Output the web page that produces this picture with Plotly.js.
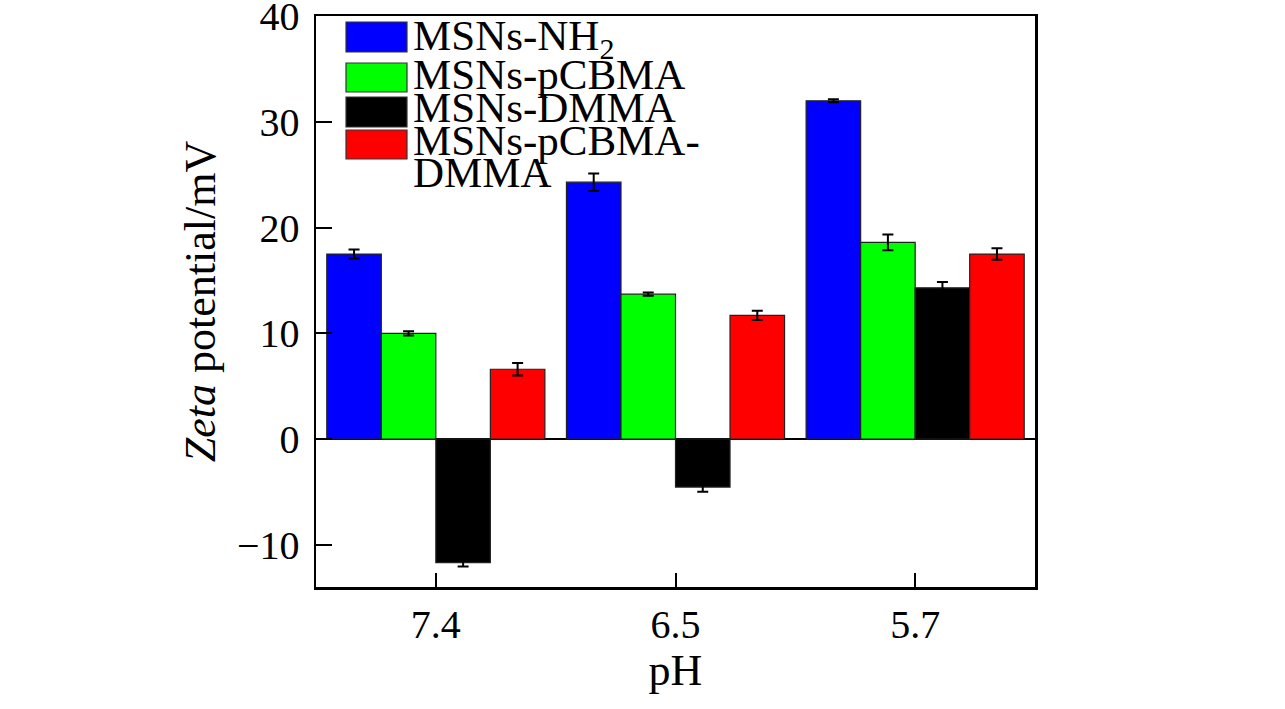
<!DOCTYPE html>
<html>
<head>
<meta charset="utf-8">
<script src="https://cdn.plot.ly/plotly-3.0.1.min.js"></script>
<style>
html,body{margin:0;padding:0;background:#fff;}
#chart{width:1285px;height:709px;}
</style>
</head>
<body>
<div id="chart"></div>
<script>
// ---- data ----
const categories = ['7.4', '6.5', '5.7'];
const seriesNames = ['MSNs-NH<sub>2</sub>', 'MSNs-pCBMA', 'MSNs-DMMA', 'MSNs-pCBMA-DMMA'];
const nh2Values = [17.5, 24.3, 32.0];
const nh2Errors = [0.43, 0.83, 0.15];
const pcbmaValues = [10.0, 13.7, 18.6];
const pcbmaErrors = [0.2, 0.15, 0.75];
const dmmaValues = [-11.7, -4.55, 14.3];
const dmmaErrors = [0.35, 0.45, 0.55];
const pcbmaDmmaValues = [6.6, 11.7, 17.5];
const pcbmaDmmaErrors = [0.6, 0.43, 0.55];
const yTickValues = [-10, 0, 10, 20, 30, 40];
const legendLines = [['MSNs-NH<sub>2</sub>'], ['MSNs-pCBMA'], ['MSNs-DMMA'], ['MSNs-pCBMA-', 'DMMA']];

// ---- styles ----
const colors = ['#0000ff', '#00ff00', '#000000', '#ff0000'];
const FONT = '"Liberation Serif", "Times New Roman", serif';
const values = [nh2Values, pcbmaValues, dmmaValues, pcbmaDmmaValues];
const errors = [nh2Errors, pcbmaErrors, dmmaErrors, pcbmaDmmaErrors];

const traces = seriesNames.map((name, i) => ({
  type: 'bar',
  name: name,
  x: categories,
  y: values[i],
  marker: {color: colors[i], line: {color: '#222', width: 1.2}},
  error_y: {type: 'data', array: errors[i], visible: true, color: '#000', thickness: 2, width: 5.5},
  showlegend: false
}));

// plot area in pixels
const L = 316, T = 16, W = 719, H = 571;
const px = v => (v - L) / W;
const py = v => (T + H - v) / H;

// hand-built legend (swatch boxes + text), in paper space
const swatchRows = [[22, 52], [63, 92], [97, 127], [130, 159]];
const textRows = [[39], [74], [108], [141, 173]];
const shapes = swatchRows.map((r, i) => ({
  type: 'rect', xref: 'paper', yref: 'paper',
  x0: px(346), x1: px(407), y0: py(r[1]), y1: py(r[0]),
  fillcolor: colors[i], line: {color: '#333', width: 1.2}
}));
const annotations = [];
legendLines.forEach((lines, i) => {
  lines.forEach((t, j) => {
    annotations.push({
      xref: 'paper', yref: 'paper', x: px(411), y: py(textRows[i][j]),
      xanchor: 'left', yanchor: 'middle', showarrow: false, text: t,
      font: {family: FONT, size: 43, color: '#000'}
    });
  });
});

const layout = {
  width: 1285, height: 709,
  margin: {l: L, r: 1285 - L - W, t: T, b: 709 - T - H},
  paper_bgcolor: '#fff', plot_bgcolor: '#fff',
  barmode: 'group', bargap: 0.09, bargroupgap: 0,
  font: {family: FONT, color: '#000'},
  showlegend: false,
  xaxis: {
    type: 'category', range: [-0.5, 2.5],
    showline: true, linecolor: '#000', linewidth: 2.5, mirror: true,
    ticks: 'inside', ticklen: 14, tickwidth: 2, tickcolor: '#000',
    showgrid: false, zeroline: false,
    tickfont: {family: FONT, size: 40, color: '#000'},
    title: {text: 'pH', font: {family: FONT, size: 44, color: '#000'}, standoff: 8}
  },
  yaxis: {
    range: [-14, 40.02], tickvals: yTickValues, ticktext: yTickValues.map(v => v < 0 ? '\u2212' + Math.abs(v) : String(v)),
    showline: true, linecolor: '#000', linewidth: 2.5, mirror: true,
    ticks: 'inside', ticklen: 16, tickwidth: 2, tickcolor: '#000',
    showgrid: false, zeroline: true, zerolinecolor: '#000', zerolinewidth: 2,
    ticklabelstandoff: 6, ticklabeloverflow: 'allow',
    tickfont: {family: FONT, size: 40, color: '#000'},
    title: {text: '<i>Zeta</i> potential/mV', font: {family: FONT, size: 44, color: '#000'}, standoff: 8}
  },
  shapes: shapes,
  annotations: annotations
};

Plotly.newPlot('chart', traces, layout, {displayModeBar: false, staticPlot: true});
</script>
</body>
</html>
